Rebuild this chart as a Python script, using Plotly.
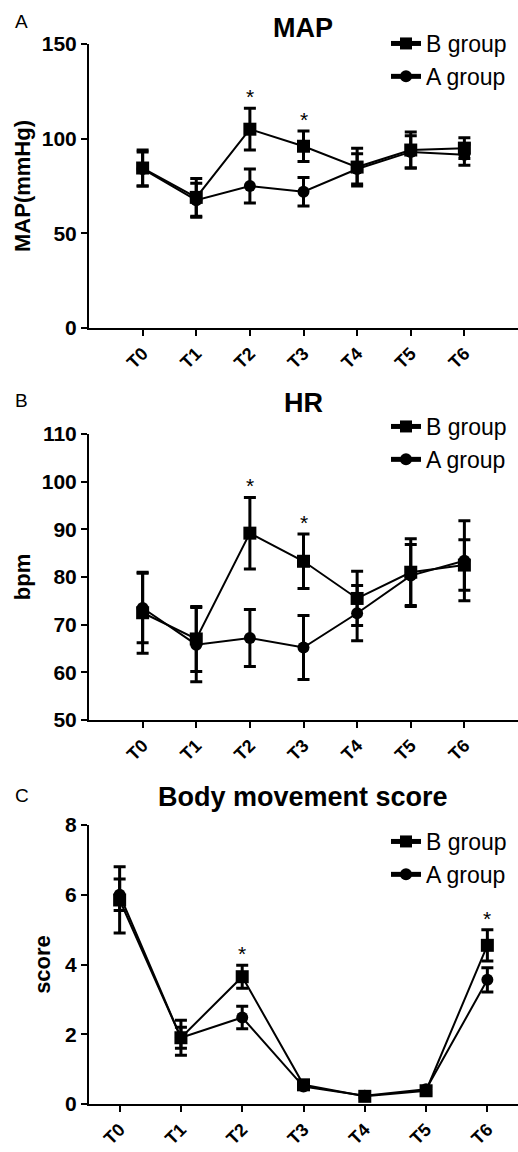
import plotly.graph_objects as go

cats = ["T0", "T1", "T2", "T3", "T4", "T5", "T6"]

# Panel A: MAP (mmHg)
map_b = [84.5, 69, 105, 96, 85, 94, 95]
map_b_err = [9.5, 10, 11, 8, 10, 9.5, 5.5]
map_a = [84, 67.5, 75, 72, 84, 93, 91.5]
map_a_err = [9, 9, 9, 7.5, 8, 8.5, 5.5]
map_sig = ["T2", "T3"]

# Panel B: HR (bpm)
hr_b = [72.5, 67, 89.2, 83.3, 75.5, 81, 82.5]
hr_b_err = [8.5, 6.8, 7.5, 5.7, 5.7, 7, 5.3]
hr_a = [73.5, 65.8, 67.2, 65.2, 72.4, 80.3, 83.4]
hr_a_err = [7.3, 7.8, 6, 6.7, 5.8, 6.5, 8.4]
hr_sig = ["T2", "T3"]

# Panel C: Body movement score
sc_b = [5.85, 1.9, 3.65, 0.55, 0.22, 0.38, 4.55]
sc_b_err = [0.95, 0.5, 0.33, 0.1, 0.05, 0.1, 0.45]
sc_a = [6.0, 1.9, 2.48, 0.5, 0.24, 0.42, 3.56]
sc_a_err = [0.45, 0.3, 0.32, 0.08, 0.05, 0.08, 0.35]
sc_sig = ["T2", "T6"]

W, H = 518, 1152
FONT = "Liberation Sans"

panels = [
    dict(b=map_b, be=map_b_err, a=map_a, ae=map_a_err, sig=map_sig,
         title="MAP", letter="A", ytitle="MAP(mmHg)", yrange=[0, 150], dtick=50,
         xrange=[-1, 7], top=44, bottom=328, standoff=5),
    dict(b=hr_b, be=hr_b_err, a=hr_a, ae=hr_a_err, sig=hr_sig,
         title="HR", letter="B", ytitle="bpm", yrange=[50, 110], dtick=10,
         xrange=[-1, 7], top=434, bottom=720, standoff=5),
    dict(b=sc_b, be=sc_b_err, a=sc_a, ae=sc_a_err, sig=sc_sig,
         title="Body movement score", letter="C", ytitle="score", yrange=[0, 8], dtick=2,
         xrange=[-0.5, 6.5], top=825, bottom=1104, standoff=8),
]

fig = go.Figure()
annotations = []
layout = {}

legend_tops = [22, 405, 820]
title_y = [28, 403, 797]
letter_y = [22, 400, 795]

for i, p in enumerate(panels):
    k = "" if i == 0 else str(i + 1)
    xa, ya = "x" + k, "y" + k
    leg = "legend" + k
    fig.add_trace(go.Scatter(
        x=cats, y=p["b"], name="B group", xaxis=xa, yaxis=ya, legend=leg,
        mode="lines+markers",
        line=dict(color="black", width=2),
        marker=dict(symbol="square", size=13, color="black"),
        error_y=dict(type="data", array=p["be"], color="black", thickness=3, width=6),
    ))
    fig.add_trace(go.Scatter(
        x=cats, y=p["a"], name="A group", xaxis=xa, yaxis=ya, legend=leg,
        mode="lines+markers",
        line=dict(color="black", width=2),
        marker=dict(symbol="circle", size=12, color="black"),
        error_y=dict(type="data", array=p["ae"], color="black", thickness=3, width=6),
    ))
    d0 = 1 - p["bottom"] / H
    d1 = 1 - p["top"] / H
    layout["xaxis" + k] = dict(
        domain=[89 / W, 1.0], anchor=ya, type="category", range=p["xrange"],
        showline=True, linecolor="black", linewidth=2,
        ticks="outside", ticklen=6, tickwidth=2, tickcolor="black",
        tickangle=-45, tickfont=dict(family=FONT, size=18, color="black", weight="bold"),
        showgrid=False, zeroline=False, automargin=False, fixedrange=True,
    )
    layout["yaxis" + k] = dict(
        domain=[d0, d1], anchor=xa, range=p["yrange"], dtick=p["dtick"],
        showline=True, linecolor="black", linewidth=2,
        ticks="outside", ticklen=6, tickwidth=2, tickcolor="black",
        tickfont=dict(family=FONT, size=21, color="black", weight="bold"),
        title=dict(text=p["ytitle"], standoff=p["standoff"],
                   font=dict(family=FONT, size=22, color="black", weight="bold")),
        showgrid=False, zeroline=False, automargin=False, fixedrange=True,
    )
    layout[leg] = dict(
        x=386 / W, xanchor="left", y=1 - legend_tops[i] / H, yanchor="top",
        bgcolor="rgba(0,0,0,0)", font=dict(family=FONT, size=23, color="black"),
        itemsizing="constant", tracegroupgap=0,
    )
    annotations.append(dict(
        text=p["title"], xref="paper", yref="paper", x=303 / W, y=1 - title_y[i] / H,
        xanchor="center", yanchor="middle", showarrow=False,
        font=dict(family=FONT, size=27, color="black", weight="bold"),
    ))
    annotations.append(dict(
        text=p["letter"], xref="paper", yref="paper", x=13 / W, y=1 - letter_y[i] / H,
        xanchor="left", yanchor="middle", showarrow=False,
        font=dict(family=FONT, size=19, color="black"),
    ))
    for c in p["sig"]:
        j = cats.index(c)
        top = max(p["b"][j] + p["be"][j], p["a"][j] + p["ae"][j])
        annotations.append(dict(
            text="*", xref=xa, yref=ya, x=c, y=top, xanchor="center", yanchor="bottom",
            yshift=-2, showarrow=False, font=dict(family=FONT, size=21, color="black"),
        ))

fig.update_layout(
    width=W, height=H, margin=dict(l=0, r=0, t=0, b=0),
    paper_bgcolor="white", plot_bgcolor="white",
    template="none", annotations=annotations, **layout,
)
fig.write_html("out.html", config={"displayModeBar": False},
               post_script="document.body.style.margin='0';")
